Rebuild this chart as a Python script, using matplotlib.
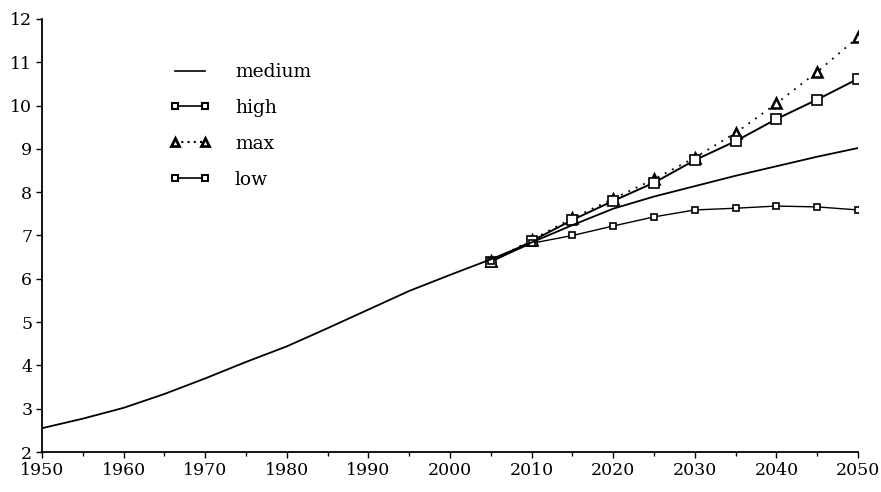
import matplotlib.pyplot as plt
from matplotlib.lines import Line2D
from matplotlib.ticker import MultipleLocator

plt.rcParams['font.family'] = ['DejaVu Serif']

# world population, billions
years_med = [1950, 1955, 1960, 1965, 1970, 1975, 1980, 1985, 1990, 1995, 2000,
             2005, 2010, 2015, 2020, 2025, 2030, 2035, 2040, 2045, 2050]
medium = [2.55, 2.77, 3.02, 3.34, 3.70, 4.08, 4.44, 4.86, 5.29, 5.72, 6.09,
          6.45, 6.84, 7.24, 7.62, 7.90, 8.14, 8.38, 8.60, 8.82, 9.02]

years_proj = [2005, 2010, 2015, 2020, 2025, 2030, 2035, 2040, 2045, 2050]
high = [6.39, 6.87, 7.36, 7.80, 8.22, 8.74, 9.18, 9.69, 10.14, 10.62]
maxv = [6.40, 6.90, 7.40, 7.85, 8.30, 8.80, 9.37, 10.05, 10.78, 11.58]
low = [6.40, 6.82, 7.00, 7.22, 7.43, 7.59, 7.63, 7.68, 7.66, 7.59]

fig = plt.figure(figsize=(8.81, 4.92), dpi=100)
ax = fig.add_axes([0.0477, 0.0813, 0.9263, 0.8801])

ax.plot(years_proj, maxv, color='black', lw=1.3, ls=(0, (1, 3.5)),
        marker='^', ms=7, mfc='white', mec='black', mew=1.8)
ax.plot(years_proj, high, color='black', lw=1.4,
        marker='s', ms=7, mfc='white', mec='black', mew=1.2)
ax.plot(years_proj, low, color='black', lw=1.0,
        marker='s', ms=5, mfc='white', mec='black', mew=1.2)
ax.plot(years_med, medium, color='black', lw=1.3)

ax.set_xlim(1950, 2050)
ax.set_ylim(2, 12)
ax.xaxis.set_major_locator(MultipleLocator(10))
ax.xaxis.set_minor_locator(MultipleLocator(5))
ax.yaxis.set_major_locator(MultipleLocator(1))
ax.tick_params(axis='both', which='major', direction='out', length=4,
               width=1, labelsize=12.5, pad=3)
ax.tick_params(axis='x', which='minor', direction='out', length=3, width=1)
for side in ('top', 'right'):
    ax.spines[side].set_visible(False)
for side in ('left', 'bottom'):
    ax.spines[side].set_linewidth(1.3)

# legend keys use smaller markers than the plotted series
keys = [
    Line2D([], [], color='black', lw=1.2),
    Line2D([], [], color='black', lw=1.2, marker='s', ms=5, mfc='white',
           mec='black', mew=1.5),
    Line2D([], [], color='black', lw=1.5, ls=(0, (1, 2)), marker='^', ms=5.5,
           mfc='white', mec='black', mew=2),
    Line2D([], [], color='black', lw=1.2, marker='s', ms=4.5, mfc='white',
           mec='black', mew=1.4),
]
ax.legend(keys, ['medium', 'high', 'max', 'low'],
          loc='upper left', bbox_to_anchor=(0.156, 0.898), frameon=False,
          borderpad=0, borderaxespad=0,
          numpoints=2, handlelength=2.2, handletextpad=1.3,
          labelspacing=0.95, fontsize=13.5)

fig.savefig('out.png', dpi=100)
